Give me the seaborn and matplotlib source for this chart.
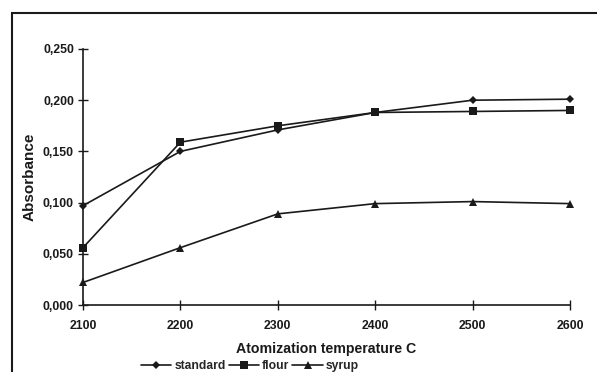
import matplotlib
matplotlib.use("Agg")
import matplotlib.pyplot as plt
import matplotlib.patches as mpatches
from matplotlib.ticker import FuncFormatter, MultipleLocator
import seaborn as sns
import pandas as pd

temperature = [2100, 2200, 2300, 2400, 2500, 2600]
standard = [0.097, 0.150, 0.171, 0.188, 0.200, 0.201]
flour = [0.056, 0.159, 0.175, 0.188, 0.189, 0.190]
syrup = [0.022, 0.056, 0.089, 0.099, 0.101, 0.099]

series_names = ["standard", "flour", "syrup"]
series_values = [standard, flour, syrup]
series_markers = ["D", "s", "^"]
series_sizes = [4.5, 5.5, 5.5]

sns.set_theme(style="white")
plt.rcParams["font.family"] = ["Liberation Sans", "DejaVu Sans"]
plt.rcParams["font.weight"] = "bold"

fig = plt.figure(figsize=(5.97, 3.72), dpi=100)
ax = fig.add_axes([83 / 597, 1 - 305 / 372, (570 - 83) / 597, (305 - 49) / 372])

for name, vals, mk, ms in zip(series_names, series_values, series_markers, series_sizes):
    df = pd.DataFrame({"temp": temperature, "abs": vals})
    sns.lineplot(data=df, x="temp", y="abs", ax=ax, color="#1a1a1a", linewidth=1.2,
                 marker=mk, markersize=ms, markeredgewidth=0, label=name, clip_on=False)

ax.set_xlim(2100, 2600)
ax.set_ylim(0, 0.25)
ax.xaxis.set_major_locator(MultipleLocator(100))
ax.yaxis.set_major_locator(MultipleLocator(0.05))
ax.yaxis.set_major_formatter(FuncFormatter(lambda v, p: f"{v:.3f}".replace(".", ",")))

for side in ["top", "right"]:
    ax.spines[side].set_visible(False)
for side in ["left", "bottom"]:
    ax.spines[side].set_color("#1a1a1a")
    ax.spines[side].set_linewidth(1.2)

ax.tick_params(axis="both", which="major", direction="inout", length=7, width=1.0,
               color="#1a1a1a", labelsize=8.8, labelcolor="#1a1a1a")
ax.tick_params(axis="x", pad=7, bottom=True)
ax.tick_params(axis="y", pad=3, left=True)
for lbl in ax.get_xticklabels() + ax.get_yticklabels():
    lbl.set_fontweight("bold")

ax.set_xlabel("Atomization temperature C", fontsize=10.2, fontweight="bold", color="#1a1a1a")
ax.set_ylabel("Absorbance", fontsize=11, fontweight="bold", color="#1a1a1a")
ax.xaxis.set_label_coords(0.5, -0.145)
ax.yaxis.set_label_coords(-0.095, 0.5)

handles, labels = ax.get_legend_handles_labels()
ax.legend_.remove()
fig.legend(handles, labels, loc="center", bbox_to_anchor=(250 / 597, 1 - 366 / 372),
           ncol=3, frameon=False, handlelength=2.5, handletextpad=0.25,
           columnspacing=0.25, borderaxespad=0, borderpad=0,
           prop={"weight": "bold", "size": 8.7})

# outer chart frame
frame = mpatches.Rectangle((12 / 597, -0.2), 2, 1.2 - 13 / 372, transform=fig.transFigure,
                           fill=False, edgecolor="#1a1a1a", linewidth=1.5)
fig.patches.append(frame)

fig.savefig("out.png", dpi=100)
